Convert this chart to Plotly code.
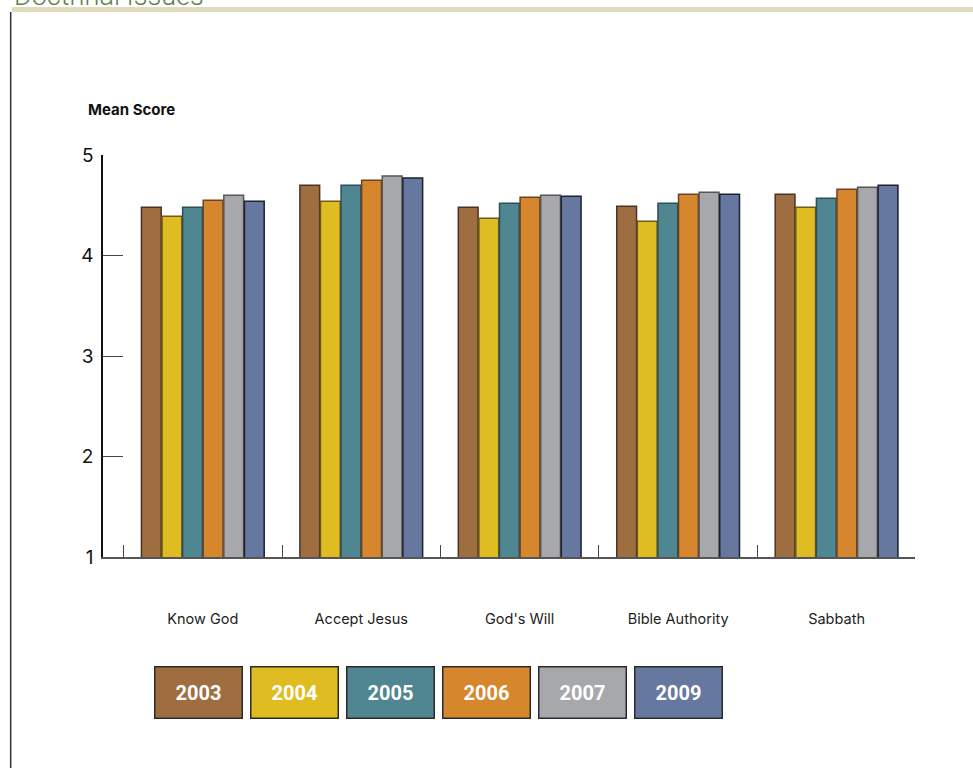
import plotly.graph_objects as go

# Survey items and years
categories = ["Know God", "Accept Jesus", "God's Will", "Bible Authority", "Sabbath"]
years = ["2003", "2004", "2005", "2006", "2007", "2009"]

# Mean scores per year, one value per category
scores_2003 = [4.48, 4.70, 4.48, 4.49, 4.61]
scores_2004 = [4.39, 4.54, 4.37, 4.34, 4.48]
scores_2005 = [4.48, 4.70, 4.52, 4.52, 4.57]
scores_2006 = [4.55, 4.75, 4.58, 4.61, 4.66]
scores_2007 = [4.60, 4.79, 4.60, 4.63, 4.68]
scores_2009 = [4.54, 4.77, 4.59, 4.61, 4.70]

y_ticks = [1, 2, 3, 4, 5]

series = [scores_2003, scores_2004, scores_2005, scores_2006, scores_2007, scores_2009]
fills = ["#9e6e41", "#dfbd22", "#4f8692", "#d6872e", "#a7a8ab", "#6678a0"]
edges = ["#4a3425", "#6b5a1a", "#2f4f56", "#6a4420", "#5a5557", "#1c2230"]

fig = go.Figure()
for yr, vals, fc, ec in zip(years, series, fills, edges):
    fig.add_trace(go.Bar(
        x=categories, y=vals, name=yr,
        marker=dict(color=fc, line=dict(color=ec, width=1.5)),
        showlegend=False,
    ))

fig.update_layout(
    width=973, height=768,
    margin=dict(l=103, r=58, t=155, b=211),
    paper_bgcolor="white", plot_bgcolor="white",
    barmode="group", bargap=0.22, bargroupgap=0.04,
    font=dict(family="Inter, Roboto, sans-serif", color="#111"),
    xaxis=dict(
        range=[-0.63, 4.495], showgrid=False, zeroline=False,
        showline=True, linecolor="#555", linewidth=2,
        ticks="inside", ticklen=12, tickwidth=1.3, tickcolor="#444",
        tickson="boundaries", ticklabelstandoff=48,
        tickfont=dict(size=14.5, color="#222"),
    ),
    yaxis=dict(
        range=[1, 5], tickvals=y_ticks, showgrid=False, zeroline=False,
        showline=True, linecolor="#111", linewidth=1.5,
        ticks="inside", ticklen=20, tickwidth=1.3, tickcolor="#444",
        ticklabelstandoff=4,
        tickfont=dict(size=19, color="#111"),
    ),
)

# Axis caption
fig.add_annotation(
    xref="paper", yref="paper", x=-0.021, y=1.0, yshift=46,
    xanchor="left", yanchor="middle", showarrow=False,
    text="<b>Mean Score</b>", font=dict(size=15, color="#111"),
)

# Page header: section title, tan rule and left border
fig.add_annotation(
    xref="paper", yref="paper", x=-0.1125, y=1.0, yshift=141,
    xanchor="left", yanchor="bottom", showarrow=False,
    text="Doctrinal Issues",
    font=dict(size=27, color="#5f7f4b", family="Roboto Light, Roboto, sans-serif"),
)
fig.add_shape(type="rect", xref="paper", yref="paper",
              x0=-0.1125, x1=1.08, yanchor=1.0, ysizemode="pixel", y0=143, y1=148,
              line=dict(width=0), fillcolor="#e2dbc0")
fig.add_shape(type="line", xref="paper", yref="paper",
              x0=-0.1137, x1=-0.1137, yanchor=1.0, ysizemode="pixel", y0=143, y1=-620,
              line=dict(color="#333", width=1.5))

# Year key as coloured boxes
for i, (yr, fc, ec) in enumerate(zip(years, fills, edges)):
    fig.add_annotation(
        xref="paper", yref="paper", x=(155 + 43 + 96 * i - 103) / 812, y=0,
        yshift=-135, xanchor="center", yanchor="middle", showarrow=False,
        text="<b>" + yr + "</b>", font=dict(size=20, color="white", family="Roboto, sans-serif"),
        width=84, height=48, bgcolor=fc, bordercolor="#2a2a2a", borderwidth=1.5,
        align="center", valign="middle",
    )

fig.write_html("out.html")
